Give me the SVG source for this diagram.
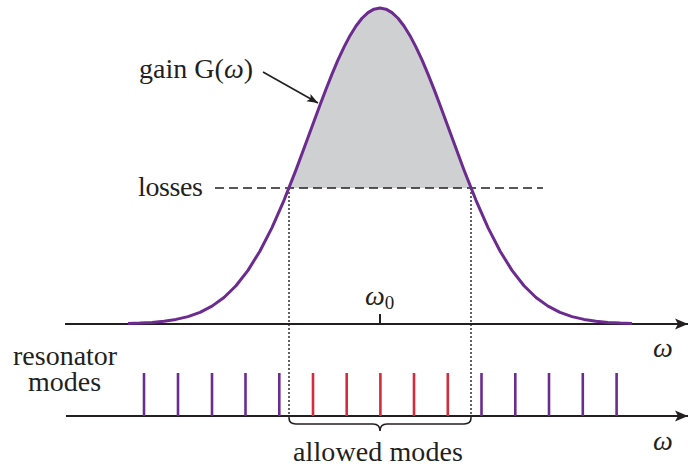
<svg xmlns="http://www.w3.org/2000/svg" width="689" height="468" viewBox="0 0 689 468">
<style>
.t{font-family:"Liberation Serif","Times New Roman",serif;font-size:28px;fill:#231f20}
.it{font-style:italic}
.sub{font-size:19px}
.ax{stroke:#231f20;stroke-width:2;fill:none}
.pm{stroke:#6c2b8f;stroke-width:2.6}
.rm{stroke:#d62a3d;stroke-width:2.6}
.dot{stroke:#231f20;stroke-width:1.4;stroke-dasharray:2 2;fill:none}
</style>
<defs>
<marker id="ah" markerUnits="userSpaceOnUse" markerWidth="14" markerHeight="12" refX="13" refY="6" orient="auto">
<path d="M0,0.5 L13,6 L0,11.5 L3,6 Z" fill="#231f20"/>
</marker>
<marker id="sa" markerUnits="userSpaceOnUse" markerWidth="12" markerHeight="10" refX="11" refY="5" orient="auto">
<path d="M0,0.8 L11,5 L0,9.2 L2.5,5 Z" fill="#231f20"/>
</marker>
</defs>
<rect width="689" height="468" fill="#ffffff"/>
<g id="gain-shade">
<path d="M289,188 L296,169.9 308,137.6 320,105 326,89.17 332,74.1 338,59.94 344,47.1 350,35.67 356,26 362,18.25 368,12.6 374,9.16 380,8 386,9.16 392,12.6 398,18.25 404,26 410,35.67 416,47.1 422,59.94 428,74.1 434,89.17 440,105 452,137.6 464,169.9 471,188 Z" fill="#cfd0d2"/>
</g>
<g id="connectors">
<line class="ax" x1="65" y1="324" x2="688" y2="324" marker-end="url(#ah)"/>
<line class="ax" x1="66" y1="416" x2="688" y2="416" marker-end="url(#ah)"/>
<line class="ax" x1="380" y1="314" x2="380" y2="324"/>
<line x1="215" y1="188" x2="543" y2="188" stroke="#231f20" stroke-width="1.6" stroke-dasharray="9 5"/>
<line class="dot" x1="289" y1="188" x2="289" y2="419"/>
<line class="dot" x1="471" y1="188" x2="471" y2="419"/>
<line x1="263" y1="72" x2="318" y2="103" stroke="#231f20" stroke-width="1.6" marker-end="url(#sa)"/>
<path d="M289,418 Q289,424 296,424 L373,424 Q380,424 380,431 Q380,424 387,424 L464,424 Q471,424 471,418" stroke="#231f20" stroke-width="1.6" fill="none"/>
</g>
<g id="gain-curve">
<path d="M128,323.5 L140,323.1 152,322.4 164,321.3 176,319.4 188,316.6 200,312.3 212,306.1 224,297.5 236,285.7 248,270.4 260,251 272,227.6 284,200.3 296,169.9 308,137.6 320,105 326,89.17 332,74.1 338,59.94 344,47.1 350,35.67 356,26 362,18.25 368,12.6 374,9.16 380,8 386,9.16 392,12.6 398,18.25 404,26 410,35.67 416,47.1 422,59.94 428,74.1 434,89.17 440,105 452,137.6 464,169.9 476,200.3 488,227.6 500,251 512,270.4 524,285.7 536,297.5 548,306.1 560,312.3 572,316.6 584,319.4 596,321.3 608,322.4 620,323.1 632,323.5" fill="none" stroke="#6c2b8f" stroke-width="3" stroke-linejoin="round"/>
</g>
<g id="modes">
<line class="pm" x1="144" y1="373" x2="144" y2="416"/>
<line class="pm" x1="178" y1="373" x2="178" y2="416"/>
<line class="pm" x1="212" y1="373" x2="212" y2="416"/>
<line class="pm" x1="245.5" y1="373" x2="245.5" y2="416"/>
<line class="pm" x1="279.3" y1="373" x2="279.3" y2="416"/>
<line class="rm" x1="313" y1="373" x2="313" y2="416"/>
<line class="rm" x1="346.7" y1="373" x2="346.7" y2="416"/>
<line class="rm" x1="380.4" y1="373" x2="380.4" y2="416"/>
<line class="rm" x1="414" y1="373" x2="414" y2="416"/>
<line class="rm" x1="447.8" y1="373" x2="447.8" y2="416"/>
<line class="pm" x1="481.5" y1="373" x2="481.5" y2="416"/>
<line class="pm" x1="515.3" y1="373" x2="515.3" y2="416"/>
<line class="pm" x1="549" y1="373" x2="549" y2="416"/>
<line class="pm" x1="582.8" y1="373" x2="582.8" y2="416"/>
<line class="pm" x1="616.6" y1="373" x2="616.6" y2="416"/>
</g>
<g id="labels">
<text class="t" x="139" y="78" textLength="114">gain G(<tspan class="it">ω</tspan>)</text>
<text class="t" x="138" y="196" textLength="65">losses</text>
<text class="t it" x="365" y="305">ω<tspan class="sub" style="font-style:normal" dy="4">0</tspan></text>
<text class="t it" x="653" y="357">ω</text>
<text class="t it" x="653" y="450">ω</text>
<text class="t"><tspan x="13" y="365">resonator</tspan><tspan x="28" y="391">modes</tspan></text>
<text class="t" x="293" y="461" textLength="170">allowed modes</text>
</g>
</svg>
